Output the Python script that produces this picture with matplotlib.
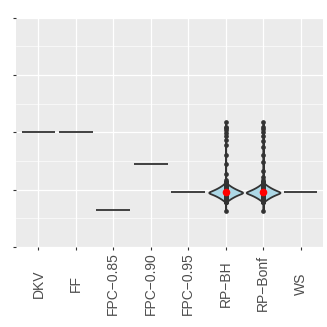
import numpy as np
import matplotlib
matplotlib.use("Agg")
import matplotlib.pyplot as plt
from matplotlib.ticker import MultipleLocator

# categorias del eje x
metodos = ["DKV", "FF", "FPC\u22120.85", "FPC\u22120.90", "FPC\u22120.95", "RP\u2212BH", "RP\u2212Bonf", "WS"]

# metodos con valor constante (violin degenerado -> linea horizontal)
valores_constantes = {
    "DKV": 2.0,
    "FF": 2.0,
    "FPC\u22120.85": 0.64,
    "FPC\u22120.90": 1.44,
    "FPC\u22120.95": 0.95,
    "WS": 0.95,
}

# cuerpo de los violines RP: valores y frecuencias
cuerpo_valores = [0.79, 0.81, 0.83, 0.85, 0.87, 0.89, 0.91, 0.93, 0.95,
                  0.97, 0.99, 1.01, 1.03, 1.05, 1.07, 1.09, 1.11, 1.13]
cuerpo_conteos = [8, 22, 36, 52, 70, 90, 113, 140, 170,
                  140, 115, 92, 72, 54, 38, 24, 12, 4]

# valores aislados (cola) de cada metodo RP
cola_bh = [0.63, 1.16, 1.28, 1.44, 1.60, 1.78, 1.87, 1.94, 1.99, 2.04, 2.07, 2.10, 2.175]
cola_bonf = [0.63, 1.16, 1.22, 1.33, 1.49, 1.60, 1.75, 1.85, 1.94, 2.00, 2.05, 2.10, 2.175]

cuerpo = np.repeat(cuerpo_valores, cuerpo_conteos)
muestras = {
    "RP\u2212BH": np.concatenate([cuerpo, cola_bh]),
    "RP\u2212Bonf": np.concatenate([cuerpo, cola_bonf]),
}

COLOR_LINEA = "#333333"
ANCHO_BANDA = 0.016

fig = plt.figure(figsize=(3.27, 3.27), dpi=100)
ax = fig.add_axes([16 / 327, 1 - 247 / 327, 307 / 327, 229.5 / 327])
ax.set_facecolor("#EBEBEB")

for i, m in enumerate(metodos):
    if m in valores_constantes:
        ax.hlines(valores_constantes[m], i - 0.45, i + 0.45, color=COLOR_LINEA, lw=1.3, zorder=3)
    else:
        datos = muestras[m]
        partes = ax.violinplot([datos], positions=[i], widths=0.9,
                               bw_method=lambda k: ANCHO_BANDA / k.dataset.std(ddof=1),
                               showextrema=False, points=600)
        for c in partes["bodies"]:
            c.set_facecolor("#ADD8E6")
            c.set_edgecolor(COLOR_LINEA)
            c.set_linewidth(1.3)
            c.set_alpha(1)
            c.set_zorder(3)
        ax.plot([i] * len(datos), datos, "o", color=COLOR_LINEA, ms=3.4, mew=0, zorder=4)
        ax.plot(i, np.mean(datos), "o", color="red", ms=5.5, mew=0, zorder=5)

ax.set_xlim(-0.6, len(metodos) - 0.4)
ax.set_ylim(0, 4)
ax.yaxis.set_major_locator(MultipleLocator(1))
ax.yaxis.set_minor_locator(MultipleLocator(0.5))
ax.set_yticklabels([])
ax.set_xticks(range(len(metodos)))
ax.set_xticklabels(metodos, rotation=90, fontsize=10, color="#4D4D4D", family="Liberation Sans")
for lab in ax.get_xticklabels():
    lab.set_va("center")

ax.grid(True, which="major", color="white", lw=0.9, zorder=0)
ax.grid(True, which="minor", axis="y", color="white", lw=0.45, zorder=0)
ax.set_axisbelow(True)
ax.tick_params(axis="both", which="major", length=2.2, width=0.8, color=COLOR_LINEA)
ax.tick_params(axis="y", which="minor", length=0)
ax.tick_params(axis="x", pad=24)
for s in ax.spines.values():
    s.set_visible(False)

fig.savefig("out.png", dpi=100)
